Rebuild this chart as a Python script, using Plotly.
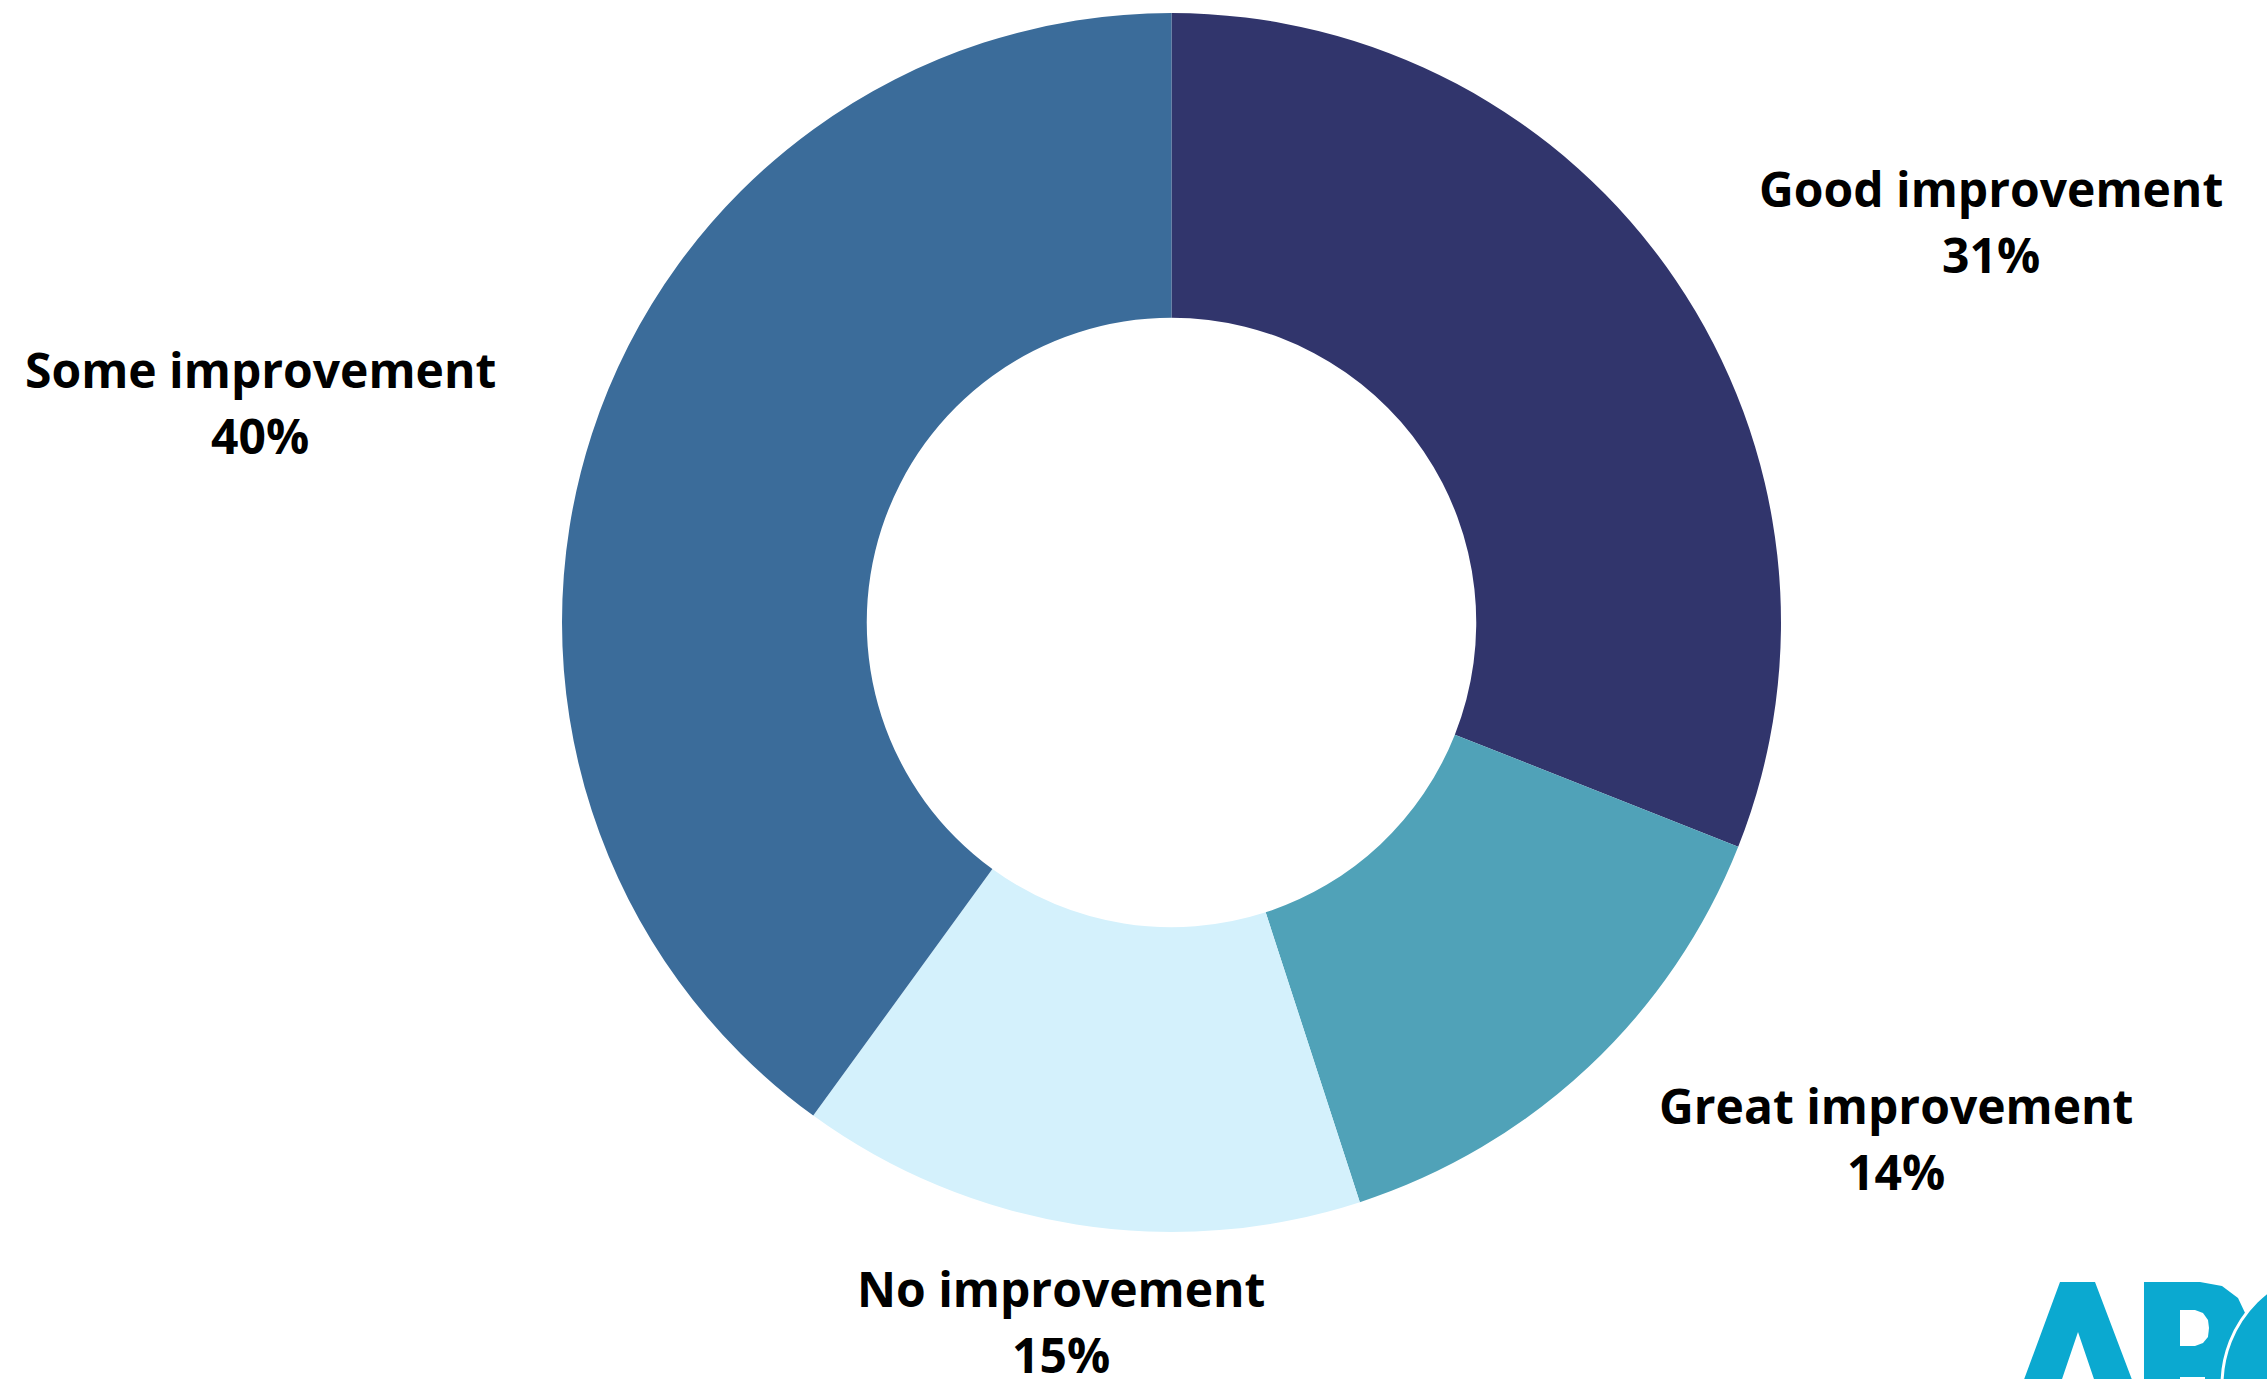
import plotly.graph_objects as go

W, H = 2267, 1379

# Survey answers, listed clockwise from 12 o'clock
categories = ["Good improvement", "Great improvement", "No improvement", "Some improvement"]
shares = [31, 14, 15, 40]
colors = ["#31356C", "#50A2B8", "#D4F1FC", "#3B6C9A"]

# Label anchor points in pixels (x, y from top-left); name and value lines sit above/below
label_pos = [(1991, 222), (1896, 1138), (1061, 1321), (260, 402)]
LINE_HALF_GAP = 33


def px(x, y):
    """Pixel position -> paper coordinates (figure has no margins)."""
    return x / W, 1 - y / H


def path(points):
    return "M " + " L ".join(f"{px(x, y)[0]:.5f},{px(x, y)[1]:.5f}" for x, y in points) + " Z"


fig = go.Figure(
    go.Pie(
        labels=categories,
        values=shares,
        hole=0.5,
        sort=False,
        direction="clockwise",
        rotation=0,
        marker=dict(colors=colors, line=dict(width=0)),
        textinfo="none",
        hoverinfo="label+percent",
        domain=dict(x=[562 / W, 1781 / W], y=[1 - 1232 / H, 1 - 13 / H]),
        showlegend=False,
    )
)

label_font = dict(family="Open Sans", size=48, color="#000000", weight=700)
annotations = []
for name, val, (lx, ly) in zip(categories, shares, label_pos):
    for text, dy in ((name, -LINE_HALF_GAP), (f"{val}%", LINE_HALF_GAP)):
        ax, ay = px(lx, ly + dy)
        annotations.append(
            dict(
                x=ax, y=ay, xref="paper", yref="paper",
                xanchor="center", yanchor="middle",
                text=text, showarrow=False, align="center",
                font=label_font,
            )
        )

# Brand mark in the bottom-right corner
logo = "#0BA9D0"
shapes = [
    # A
    dict(type="path", xref="paper", yref="paper", line=dict(width=0), fillcolor=logo,
         path=path([(2022, 1385), (2060, 1282), (2095, 1282), (2134, 1385),
                    (2096, 1385), (2078, 1332), (2060, 1385)])),
    # B body
    dict(type="path", xref="paper", yref="paper", line=dict(width=0), fillcolor=logo,
         path=path([(2144, 1385), (2144, 1282), (2200, 1282), (2222, 1286), (2238, 1298),
                    (2246, 1315), (2246, 1340), (2238, 1360), (2230, 1385)])),
    # B upper counter
    dict(type="path", xref="paper", yref="paper", line=dict(width=0), fillcolor="white",
         path=path([(2180, 1310), (2195, 1310), (2203, 1313), (2208, 1320), (2209, 1328),
                    (2208, 1337), (2203, 1343), (2195, 1346), (2180, 1346)])),
    # B lower counter
    dict(type="path", xref="paper", yref="paper", line=dict(width=0), fillcolor="white",
         path=path([(2180, 1377), (2205, 1377), (2205, 1390), (2180, 1390)])),
    # C disc
    dict(type="circle", xref="paper", yref="paper",
         x0=px(2222, 0)[0], x1=px(2458, 0)[0], y0=px(0, 1503)[1], y1=px(0, 1267)[1],
         fillcolor=logo, line=dict(color="white", width=3)),
]

fig.update_layout(
    width=W, height=H,
    margin=dict(l=0, r=0, t=0, b=0),
    paper_bgcolor="white",
    plot_bgcolor="white",
    annotations=annotations,
    shapes=shapes,
)

fig.write_html("out.html")
